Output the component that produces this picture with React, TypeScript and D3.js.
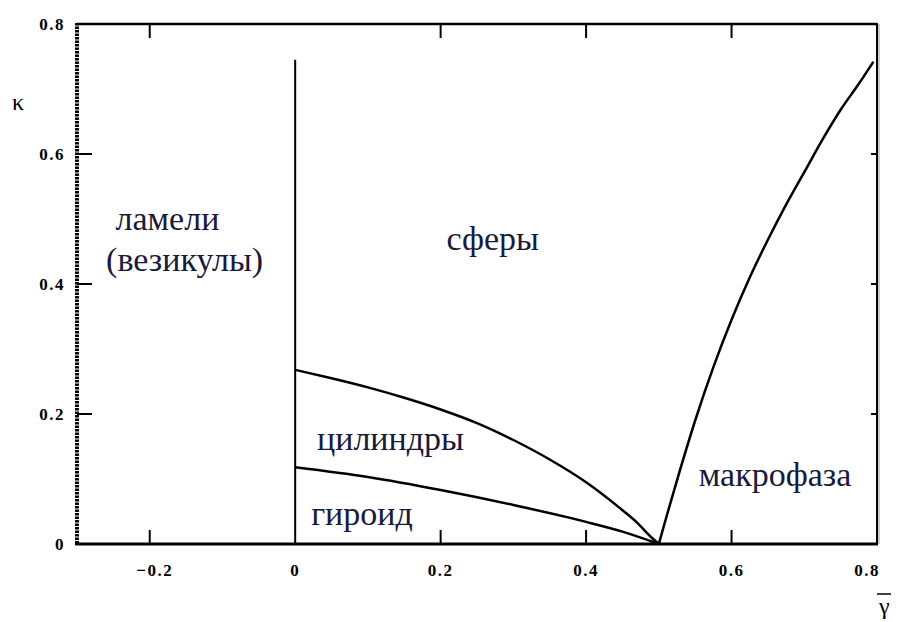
import React from "react";
import * as d3 from "d3";

// Phase diagram data: gamma-bar (x) vs kappa (y)
const xTicks = [-0.2, 0, 0.2, 0.4, 0.6, 0.8];
const yTicks = [0, 0.2, 0.4, 0.6, 0.8];
const xTickLabels = ["\u22120.2", "0", "0.2", "0.4", "0.6", "0.8"];
const yTickLabels = ["0", "0.2", "0.4", "0.6", "0.8"];

// Boundary between cylinders and spheres
const cylSphereGamma = [0, 0.05, 0.1, 0.15, 0.2, 0.25, 0.3, 0.35, 0.4, 0.45, 0.47, 0.49, 0.5];
const cylSphereKappa = [0.268, 0.255, 0.241, 0.225, 0.207, 0.186, 0.16, 0.13, 0.095, 0.052, 0.033, 0.01, 0];

// Boundary between gyroid and cylinders
const gyrCylGamma = [0, 0.1, 0.2, 0.3, 0.4, 0.45, 0.5];
const gyrCylKappa = [0.118, 0.103, 0.083, 0.06, 0.034, 0.019, 0];

// Macrophase separation boundary
const macroGamma = [0.5, 0.51, 0.525, 0.55, 0.575, 0.6, 0.625, 0.65, 0.675, 0.7, 0.725, 0.75, 0.775, 0.795];
const macroKappa = [0, 0.04, 0.098, 0.19, 0.272, 0.345, 0.41, 0.468, 0.522, 0.572, 0.622, 0.668, 0.708, 0.742];

// Vertical boundary at gamma = 0
const lamellaeTop = 0.745;

const regionLabels = [
  { text: "ламели", x: -0.247, y: 0.483 },
  { text: "(везикулы)", x: -0.26, y: 0.420 },
  { text: "сферы", x: 0.208, y: 0.452 },
  { text: "цилиндры", x: 0.030, y: 0.145 },
  { text: "гироид", x: 0.022, y: 0.029 },
  { text: "макрофаза", x: 0.555, y: 0.09 },
];

const W = 899;
const H = 622;
const M = { left: 77, right: 877, top: 24, bottom: 544 };

const css = `
  .lbl { font-family: "Liberation Serif", serif !important; }
  .tick { font-family: "Liberation Serif", serif !important; font-weight: 700; font-size: 17px; letter-spacing: 1.5px; }
  .region { font-family: "Liberation Serif", serif !important; font-size: 34px; }
  .title { font-family: "Liberation Serif", serif !important; font-size: 24px; }
`;

export default function App() {
  const x = d3.scaleLinear().domain([-0.3, 0.8]).range([M.left, M.right]);
  const y = d3.scaleLinear().domain([0, 0.8]).range([M.bottom, M.top]);

  const line = d3
    .line<[number, number]>()
    .x((d) => x(d[0]))
    .y((d) => y(d[1]))
    .curve(d3.curveMonotoneX);

  const zip = (a: number[], b: number[]) => a.map((v, i) => [v, b[i]] as [number, number]);

  return (
    <div style={{ margin: "-8px 0 0 -8px" }}>
      <svg width={W} height={H} style={{ display: "block" }}>
        <style>{css}</style>
        <rect x={0} y={0} width={W} height={H} fill="#fff" />

        {/* frame */}
        <line x1={M.left} x2={M.right} y1={M.top} y2={M.top} stroke="#000" strokeWidth={2.5} />
        <line x1={M.left - 2} x2={M.right + 1} y1={M.bottom} y2={M.bottom} stroke="#000" strokeWidth={3} />
        <line x1={M.right} x2={M.right} y1={M.top - 1} y2={M.bottom + 1} stroke="#000" strokeWidth={2} />
        <line x1={M.right + 2} x2={M.right + 2} y1={M.top} y2={M.bottom} stroke="#bbb" strokeWidth={1.5} />
        <line
          x1={M.left}
          x2={M.left}
          y1={M.top - 1}
          y2={M.bottom}
          stroke="#000"
          strokeWidth={4}
          strokeDasharray="2.5 1"
        />

        {/* ticks */}
        {xTicks.map((t) =>
          t === 0 || t === 0.8 ? null : (
            <g key={"xt" + t}>
              <line x1={x(t)} x2={x(t)} y1={M.bottom} y2={M.bottom - 14} stroke="#000" strokeWidth={2} />
              <line x1={x(t)} x2={x(t)} y1={M.top} y2={M.top + 14} stroke="#000" strokeWidth={2} />
            </g>
          )
        )}
        {yTicks.map((t) =>
          t === 0 || t === 0.8 ? null : (
            <g key={"yt" + t}>
              <line x1={M.left} x2={M.left + 15} y1={y(t)} y2={y(t)} stroke="#000" strokeWidth={2} />
              <line x1={M.right} x2={M.right - 6} y1={y(t)} y2={y(t)} stroke="#000" strokeWidth={2} />
            </g>
          )
        )}

        {/* tick labels */}
        {xTicks.map((t, i) => (
          <text
            key={"xl" + t}
            className="tick"
            x={x(t) + (t < 0 ? 5 : t === 0.8 ? -10 : 0)}
            y={576}
            textAnchor="middle"
            fontFamily="serif"
          >
            {xTickLabels[i]}
          </text>
        ))}
        {yTicks.map((t, i) => (
          <text key={"yl" + t} className="tick" x={65} y={y(t) + 6} textAnchor="end" fontFamily="serif">
            {yTickLabels[i]}
          </text>
        ))}

        {/* axis titles */}
        <text className="title" x={12} y={110} fontFamily="serif">
          κ
        </text>
        <line x1={877} x2={898} y1={594} y2={594} stroke="#000" strokeWidth={1.5} />
        <text className="title" x={879} y={614} fontFamily="serif">
          γ
        </text>

        {/* phase boundaries */}
        <line x1={x(0)} x2={x(0)} y1={M.bottom} y2={y(lamellaeTop)} stroke="#000" strokeWidth={2} />
        <path d={line(zip(cylSphereGamma, cylSphereKappa)) || ""} fill="none" stroke="#000" strokeWidth={2.5} />
        <path d={line(zip(gyrCylGamma, gyrCylKappa)) || ""} fill="none" stroke="#000" strokeWidth={2.5} />
        <path d={line(zip(macroGamma, macroKappa)) || ""} fill="none" stroke="#000" strokeWidth={2.5} />

        {/* region names */}
        {regionLabels.map((r) => (
          <text key={r.text} className="region" x={x(r.x)} y={y(r.y)} fill="#1a1a3c" fontFamily="serif">
            {r.text}
          </text>
        ))}
      </svg>
    </div>
  );
}
